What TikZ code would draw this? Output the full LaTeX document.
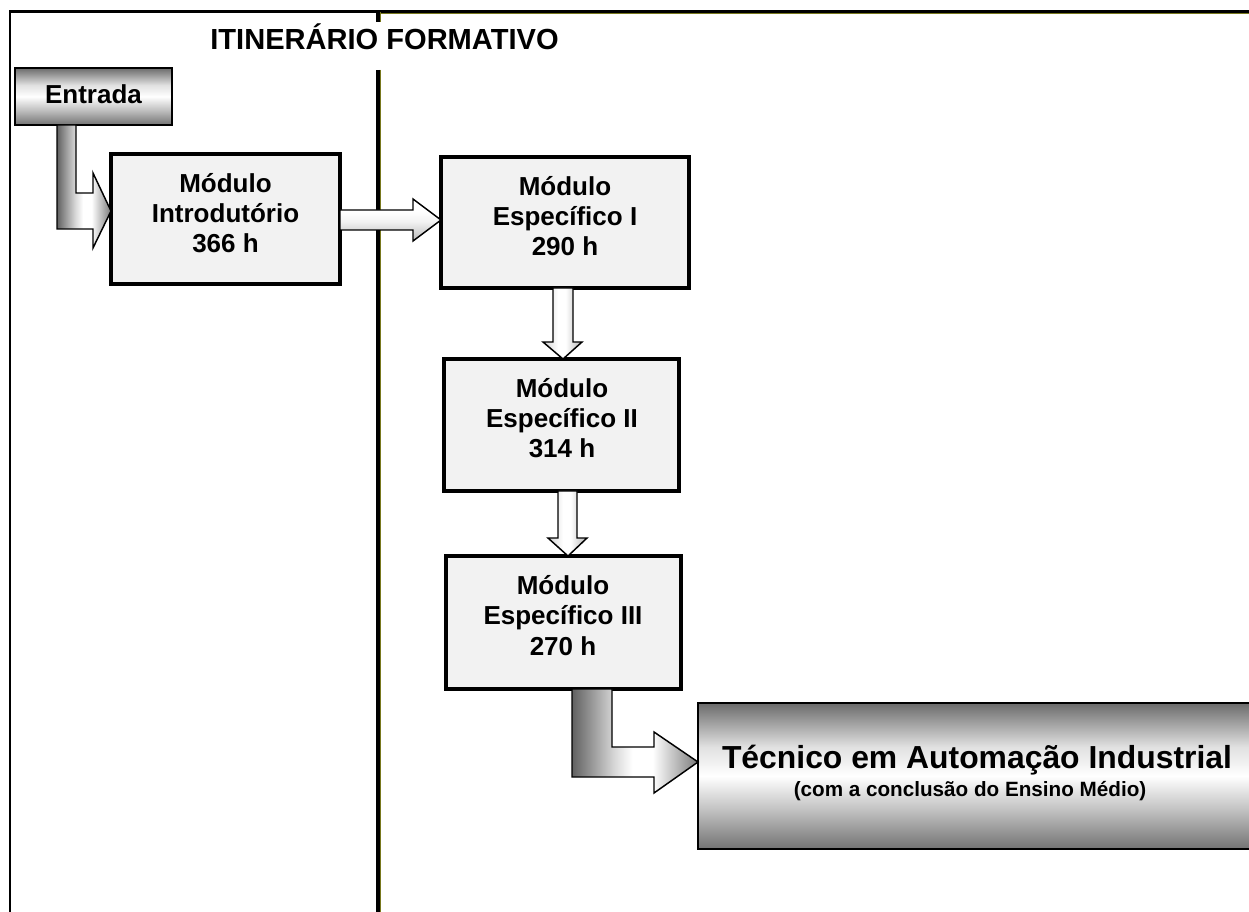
\documentclass[tikz,border=0pt]{standalone}
\usepackage{fontspec}
\setmainfont{Liberation Sans}
\usetikzlibrary{fit,calc}
\pgfdeclareverticalshading{gboxshade}{100bp}{color(0bp)=(black!55); color(25bp)=(black!55); color(38bp)=(black!25); color(50bp)=(white); color(60bp)=(black!12); color(75bp)=(black!58); color(100bp)=(black!58)}
\pgfdeclarehorizontalshading{garrowshade}{100bp}{color(0bp)=(black!62); color(25bp)=(black!62); color(42bp)=(black!15); color(49bp)=(white); color(57bp)=(white); color(75bp)=(black!52); color(100bp)=(black!52)}
\pgfdeclareverticalshading{lharrowshade}{100bp}{color(0bp)=(black!28); color(25bp)=(black!28); color(48bp)=(black!5); color(60bp)=(white); color(100bp)=(white)}
\pgfdeclarehorizontalshading{lvarrowshade}{100bp}{color(0bp)=(black!18); color(25bp)=(black!18); color(44bp)=(white); color(54bp)=(white); color(75bp)=(black!30); color(100bp)=(black!30)}
\definecolor{olivel}{RGB}{120,120,30}
\begin{document}
\begin{tikzpicture}[x=0.75pt,y=-0.75pt,
  modbox/.style={draw=black, line width=2.3pt, fill=black!5, inner sep=0pt, outer sep=0pt},
  gbox/.style={draw=black, line width=1.6pt, shade, shading=gboxshade, inner sep=0pt, outer sep=0pt},
  modtext/.style={font=\fontsize{19.5}{22.8}\selectfont\bfseries, align=center, anchor=base, inner sep=0pt},
  darrow/.style={draw=black, line width=1.1pt, shading=garrowshade, line join=miter},
  lharrow/.style={draw=black, line width=1.1pt, shading=lharrowshade, line join=miter},
  lvarrow/.style={draw=black, line width=1.1pt, shading=lvarrowshade, line join=miter},
  frameline/.style={draw=black, line width=2pt}
]
\useasboundingbox (0,0) rectangle (1249,912);
\clip (0,0) rectangle (1249,912);
\fill[white] (0,0) rectangle (1249,912);

% frame
\draw[frameline] (10,913) -- (10,11.5) -- (1250,11.5);
\draw[olivel, line width=0.75pt] (380,13.3) -- (1250,13.3);
\draw[black, line width=2.6pt] (377.8,11) -- (377.8,22);
\draw[black, line width=2.6pt] (377.8,70) -- (377.8,913);
\draw[olivel, line width=0.75pt] (380.5,12) -- (380.5,22);
\draw[olivel, line width=0.75pt] (380.5,70) -- (380.5,913);

% title
\node[font=\fontsize{21.8}{26}\selectfont\bfseries, anchor=base, inner sep=0pt] (title) at (384.5,50) {ITINERÁRIO FORMATIVO};

% boxes
\node[gbox, fit={(15,68) (172,125)}] (entrada) {};
\node[modbox, fit={(111,154) (340,284)}] (intro) {};
\node[modbox, fit={(441,157) (689,288)}] (esp1) {};
\node[modbox, fit={(444,359) (679,491)}] (esp2) {};
\node[modbox, fit={(446,556) (681,689)}] (esp3) {};
\node[gbox, fit={(698,703) (1262,849)}] (final) {};

% arrows
\shade[darrow] (entrada.south -| 57,0) -- (entrada.south -| 76,0) -- (76,193) -- (93,193) -- (93,173) -- (intro.west |- 0,211) -- (93,248) -- (93,229) -- (57,229) -- cycle;
\shade[lharrow] (intro.east |- 0,210) -- (413,210) -- (413,199) -- (esp1.west |- 0,220) -- (413,241) -- (413,230) -- (intro.east |- 0,230) -- cycle;
\shade[lvarrow] (esp1.south -| 553,0) -- (esp1.south -| 573,0) -- (573,342) -- (582,342) -- (esp2.north -| 563,0) -- (543,342) -- (553,342) -- cycle;
\shade[lvarrow] (esp2.south -| 558,0) -- (esp2.south -| 577,0) -- (577,538) -- (587,538) -- (esp3.north -| 568,0) -- (548,538) -- (558,538) -- cycle;
\shade[darrow] (esp3.south -| 572,0) -- (esp3.south -| 612,0) -- (612,747) -- (654,747) -- (654,732) -- (final.west |- 0,762) -- (654,793) -- (654,777) -- (572,777) -- cycle;

% texts
\node[font=\fontsize{19.5}{22.5}\selectfont\bfseries, anchor=base, inner sep=0pt] (tentrada) at (93.5,104) {Entrada};
\node[modtext] (tintro) at (225.5,253) {Módulo\\Introdutório\\366 h};
\node[modtext] (tesp1) at (565,256) {Módulo\\Específico I\\290 h};
\node[modtext] (tesp2) at (562,458) {Módulo\\Específico II\\314 h};
\node[modtext] (tesp3) at (563,655) {Módulo\\Específico III\\270 h};
\node[font=\fontsize{23.9}{28}\selectfont\bfseries, anchor=base, inner sep=0pt] (tfinal) at (977,768) {Técnico em Automação Industrial};
\node[font=\fontsize{15.5}{18}\selectfont\bfseries, anchor=base, inner sep=0pt] (tsub) at (970,796) {(com a conclusão do Ensino Médio)};
\end{tikzpicture}
\end{document}
